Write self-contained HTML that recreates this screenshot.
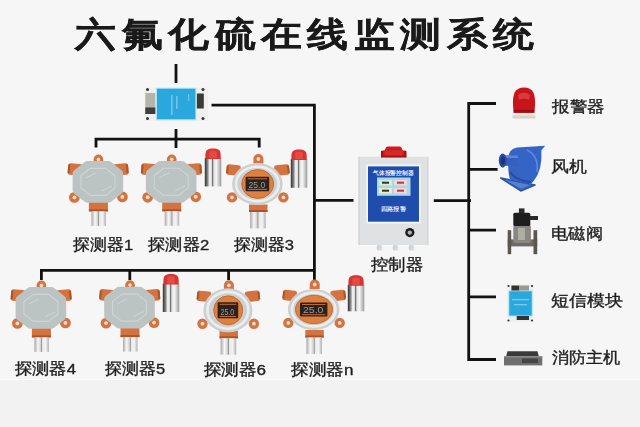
<!DOCTYPE html>
<html><head><meta charset="utf-8"><style>
html,body{margin:0;padding:0;width:640px;height:427px;overflow:hidden;background:#f6f6f6;font-family:"Liberation Sans",sans-serif}
#bot{position:absolute;left:0;top:379px;width:640px;height:48px;background:#f2f2f2;border-top:1px solid #fcfcfc}
</style></head><body><div id="bot"></div>
<svg width="640" height="427" style="position:absolute;left:0;top:0;filter:blur(0.35px);font-family:'Liberation Sans',sans-serif"><defs><linearGradient id="cyl" x1="0" x2="1" y1="0" y2="0"><stop offset="0" stop-color="#2e2e2e"/><stop offset="0.18" stop-color="#8a8a8a"/><stop offset="0.3" stop-color="#fafafa"/><stop offset="0.42" stop-color="#d8d8d8"/><stop offset="0.48" stop-color="#5a5a5a"/><stop offset="0.54" stop-color="#e0e0e0"/><stop offset="0.7" stop-color="#f6f6f6"/><stop offset="1" stop-color="#9a9a9a"/></linearGradient><linearGradient id="sen" x1="0" x2="1" y1="0" y2="0"><stop offset="0" stop-color="#a8a8a8"/><stop offset="0.25" stop-color="#f8f8f8"/><stop offset="0.45" stop-color="#cfcfcf"/><stop offset="0.5" stop-color="#8a8a8a"/><stop offset="0.56" stop-color="#e8e8e8"/><stop offset="0.78" stop-color="#f4f4f4"/><stop offset="1" stop-color="#b0b0b0"/></linearGradient></defs><g font-size="34" font-weight="bold" fill="#1a1a1a" stroke="#1a1a1a" stroke-width="0.3" text-anchor="middle"><text x="0" y="0" transform="translate(96.0,46) scale(1.2,1)">六</text><text x="0" y="0" transform="translate(142.4,46) scale(1.2,1)">氟</text><text x="0" y="0" transform="translate(188.8,46) scale(1.2,1)">化</text><text x="0" y="0" transform="translate(235.2,46) scale(1.2,1)">硫</text><text x="0" y="0" transform="translate(281.6,46) scale(1.2,1)">在</text><text x="0" y="0" transform="translate(328.0,46) scale(1.2,1)">线</text><text x="0" y="0" transform="translate(374.4,46) scale(1.2,1)">监</text><text x="0" y="0" transform="translate(420.8,46) scale(1.2,1)">测</text><text x="0" y="0" transform="translate(467.2,46) scale(1.2,1)">系</text><text x="0" y="0" transform="translate(513.6,46) scale(1.2,1)">统</text></g><path d="M176,64 V83 M176,129 V148" stroke="#121212" stroke-width="2.8" fill="none" stroke-linecap="butt"/><path d="M211.5,105.2 H314.4 V281" stroke="#121212" stroke-width="2.8" fill="none" stroke-linecap="butt"/><path d="M96,147.6 V139.2 H259.2 V147.6" stroke="#121212" stroke-width="2.8" fill="none" stroke-linecap="butt"/><path d="M41.4,280 V270.4 H314.4" stroke="#121212" stroke-width="2.8" fill="none" stroke-linecap="butt"/><path d="M129.8,280 V270.4 M228.6,280 V270.4" stroke="#121212" stroke-width="2.8" fill="none" stroke-linecap="butt"/><path d="M314.4,200.3 H353.5" stroke="#121212" stroke-width="2.8" fill="none" stroke-linecap="butt"/><path d="M433.8,200.6 H471 M496,103.5 H468.7 V359.5 H496 M468.7,169.4 H497.6 M468.7,230.2 H496 M468.7,296.8 H496" stroke="#121212" stroke-width="2.8" fill="none" stroke-linecap="butt"/><rect x="144.7" y="87.6" width="63.3" height="33.4" rx="1.5" fill="#efefec"/><rect x="145.3" y="93" width="10" height="21" fill="#b4b4ac"/><rect x="145.3" y="107.5" width="10" height="6.5" fill="#3d3d3a"/><rect x="196.8" y="93.5" width="7" height="15" fill="#3a3a36"/><circle cx="147.5" cy="89.5" r="1.5" fill="#333"/><circle cx="203" cy="89.5" r="1.5" fill="#333"/><circle cx="147.5" cy="118.5" r="1.5" fill="#333"/><circle cx="203" cy="118.5" r="1.5" fill="#333"/><rect x="156" y="87.8" width="40.3" height="32.4" fill="#a8e4f6"/><rect x="157" y="88.8" width="38.3" height="30.4" fill="#2aa7dd"/><g fill="#7fcdf0" opacity="0.8"><rect x="171" y="95" width="1.6" height="20"/><rect x="176" y="96" width="1.6" height="13"/><rect x="188" y="94" width="1.2" height="7"/></g><g transform="translate(204.8,148.4)"><rect x="0" y="9.5" width="16.5" height="28.5" fill="url(#cyl)"/><path d="M0.6,10.5 L0.6,6.5 C0.6,1.2 3.5,0 8.25,0 C13,0 15.9,1.2 15.9,6.5 L15.9,10.5 Z" fill="#d83430"/><path d="M4.5,3 Q8.25,1.2 12,3 L12,9.5 L4.5,9.5 Z" fill="#f06a60" opacity="0.45"/></g><g transform="translate(290.8,149.5)"><rect x="0" y="9.5" width="16.5" height="28.799999999999997" fill="url(#cyl)"/><path d="M0.6,10.5 L0.6,6.5 C0.6,1.2 3.5,0 8.25,0 C13,0 15.9,1.2 15.9,6.5 L15.9,10.5 Z" fill="#d83430"/><path d="M4.5,3 Q8.25,1.2 12,3 L12,9.5 L4.5,9.5 Z" fill="#f06a60" opacity="0.45"/></g><g transform="translate(97.9,181.9)"><path d="M-4.3,-18.18 L-4.3,-22.5 A4.8,4.8 0 0 1 5.3,-22.5 L5.3,-18.18 Z" fill="#d4733f"/><circle cx="0.5" cy="-22.5" r="1.82" fill="#f1dccd"/><g transform="rotate(5 -15 -11.75)"><rect x="-30" y="-17.5" width="15" height="11.5" rx="2.5" fill="#d4733f"/><rect x="-30" y="-16.0" width="2" height="8.5" fill="#a9542c"/></g><g transform="rotate(-5 15 -11.75)"><rect x="15" y="-17.5" width="15.5" height="11.5" rx="2.5" fill="#d4733f"/><rect x="28.5" y="-16.0" width="2" height="8.5" fill="#a9542c"/></g><circle cx="-23.5" cy="15.5" r="5.4" fill="#d4733f"/><circle cx="-23.5" cy="15.5" r="1.94" fill="#f1dccd"/><circle cx="24.5" cy="15" r="5.4" fill="#d4733f"/><circle cx="24.5" cy="15" r="1.94" fill="#f1dccd"/><rect x="-9" y="20" width="19" height="9.5" fill="#d4733f"/><rect x="-9" y="27.5" width="19" height="2" fill="#a9542c"/><rect x="-6.5" y="29.5" width="14.5" height="14.5" fill="url(#sen)"/><polygon points="-10.4,-16.4 10.4,-16.4 20.8,-8.2 20.8,8.2 10.4,16.4 -10.4,16.4 -20.8,8.2 -20.8,-8.2" fill="#bcc3c3" stroke="#bcc3c3" stroke-width="9" stroke-linejoin="round"/><polygon points="-7.7,-13.5 7.7,-13.5 17.0,-6.1 17.0,6.1 7.7,13.5 -7.7,13.5 -17.0,6.1 -17.0,-6.1" fill="none" stroke="#ced5d5" stroke-width="1.1" stroke-linejoin="round"/><path d="M-12,-4 L-2,-9 M4,9 L14,4" stroke="#d2d8d8" stroke-width="0.9"/></g><g transform="translate(171.2,181.8)"><path d="M-4.3,-18.18 L-4.3,-22.5 A4.8,4.8 0 0 1 5.3,-22.5 L5.3,-18.18 Z" fill="#d4733f"/><circle cx="0.5" cy="-22.5" r="1.82" fill="#f1dccd"/><g transform="rotate(5 -15 -11.75)"><rect x="-30" y="-17.5" width="15" height="11.5" rx="2.5" fill="#d4733f"/><rect x="-30" y="-16.0" width="2" height="8.5" fill="#a9542c"/></g><g transform="rotate(-5 15 -11.75)"><rect x="15" y="-17.5" width="15.5" height="11.5" rx="2.5" fill="#d4733f"/><rect x="28.5" y="-16.0" width="2" height="8.5" fill="#a9542c"/></g><circle cx="-23.5" cy="15.5" r="5.4" fill="#d4733f"/><circle cx="-23.5" cy="15.5" r="1.94" fill="#f1dccd"/><circle cx="24.5" cy="15" r="5.4" fill="#d4733f"/><circle cx="24.5" cy="15" r="1.94" fill="#f1dccd"/><rect x="-9" y="20" width="19" height="9.5" fill="#d4733f"/><rect x="-9" y="27.5" width="19" height="2" fill="#a9542c"/><rect x="-6.5" y="29.5" width="14.5" height="14.5" fill="url(#sen)"/><polygon points="-10.4,-16.4 10.4,-16.4 20.8,-8.2 20.8,8.2 10.4,16.4 -10.4,16.4 -20.8,8.2 -20.8,-8.2" fill="#bcc3c3" stroke="#bcc3c3" stroke-width="9" stroke-linejoin="round"/><polygon points="-7.7,-13.5 7.7,-13.5 17.0,-6.1 17.0,6.1 7.7,13.5 -7.7,13.5 -17.0,6.1 -17.0,-6.1" fill="none" stroke="#ced5d5" stroke-width="1.1" stroke-linejoin="round"/><path d="M-12,-4 L-2,-9 M4,9 L14,4" stroke="#d2d8d8" stroke-width="0.9"/></g><g transform="translate(257.4,184)"><path d="M-4,-20.5 L-4,-25 A5,5 0 0 1 6,-25 L6,-20.5 Z" fill="#d4733f"/><circle cx="1" cy="-25" r="1.90" fill="#f1dccd"/><g transform="rotate(6 -17 -13.25)"><rect x="-31" y="-18.5" width="14" height="10.5" rx="2.5" fill="#d4733f"/><rect x="-31" y="-17.0" width="2" height="7.5" fill="#a9542c"/></g><g transform="rotate(-6 17 -13.25)"><rect x="17" y="-18.5" width="15" height="10.5" rx="2.5" fill="#d4733f"/><rect x="30" y="-17.0" width="2" height="7.5" fill="#a9542c"/></g><circle cx="-25.4" cy="13.4" r="5.2" fill="#d4733f"/><circle cx="-25.4" cy="13.4" r="1.87" fill="#f1dccd"/><circle cx="26" cy="13.4" r="5.2" fill="#d4733f"/><circle cx="26" cy="13.4" r="1.87" fill="#f1dccd"/><rect x="-8.4" y="20.5" width="18.5" height="7.5" fill="#d4733f"/><rect x="-8.4" y="26" width="18.5" height="2" fill="#a9542c"/><rect x="-7.3" y="28" width="15.600000000000001" height="16.4" fill="url(#sen)"/><ellipse cx="0" cy="0" rx="25.3" ry="20.9" fill="#cdd0d0"/><ellipse cx="0" cy="0" rx="21.3" ry="17.299999999999997" fill="none" stroke="#eceeee" stroke-width="2.6"/><ellipse cx="0.3" cy="0" rx="16" ry="14.4" fill="#e0803e"/><ellipse cx="0.3" cy="0" rx="16" ry="14.4" fill="none" stroke="#b8602e" stroke-width="0.8"/><rect x="-11.8" y="-7.2" width="23.6" height="14.4" rx="1.2" fill="#2a221f"/><text x="-8.8" y="4.0" font-size="8.9" fill="#dcdcdc" opacity="0.65" textLength="16.6" lengthAdjust="spacingAndGlyphs">25.0</text><rect x="-9.8" y="-5.7" width="19.6" height="1" fill="#e08040" opacity="0.8"/><rect x="-9.8" y="4.9" width="19.6" height="1" fill="#e08040" opacity="0.8"/></g><g transform="translate(162.8,274)"><rect x="0" y="9.5" width="16.5" height="28.5" fill="url(#cyl)"/><path d="M0.6,10.5 L0.6,6.5 C0.6,1.2 3.5,0 8.25,0 C13,0 15.9,1.2 15.9,6.5 L15.9,10.5 Z" fill="#d83430"/><path d="M4.5,3 Q8.25,1.2 12,3 L12,9.5 L4.5,9.5 Z" fill="#f06a60" opacity="0.45"/></g><g transform="translate(347.8,275.3)"><rect x="0" y="9.5" width="16.5" height="26.5" fill="url(#cyl)"/><path d="M0.6,10.5 L0.6,6.5 C0.6,1.2 3.5,0 8.25,0 C13,0 15.9,1.2 15.9,6.5 L15.9,10.5 Z" fill="#d83430"/><path d="M4.5,3 Q8.25,1.2 12,3 L12,9.5 L4.5,9.5 Z" fill="#f06a60" opacity="0.45"/></g><g transform="translate(40.9,307.9)"><path d="M-4.3,-18.18 L-4.3,-22.5 A4.8,4.8 0 0 1 5.3,-22.5 L5.3,-18.18 Z" fill="#d4733f"/><circle cx="0.5" cy="-22.5" r="1.82" fill="#f1dccd"/><g transform="rotate(5 -15 -11.75)"><rect x="-30" y="-17.5" width="15" height="11.5" rx="2.5" fill="#d4733f"/><rect x="-30" y="-16.0" width="2" height="8.5" fill="#a9542c"/></g><g transform="rotate(-5 15 -11.75)"><rect x="15" y="-17.5" width="15.5" height="11.5" rx="2.5" fill="#d4733f"/><rect x="28.5" y="-16.0" width="2" height="8.5" fill="#a9542c"/></g><circle cx="-23.5" cy="15.5" r="5.4" fill="#d4733f"/><circle cx="-23.5" cy="15.5" r="1.94" fill="#f1dccd"/><circle cx="24.5" cy="15" r="5.4" fill="#d4733f"/><circle cx="24.5" cy="15" r="1.94" fill="#f1dccd"/><rect x="-9" y="20" width="19" height="9.5" fill="#d4733f"/><rect x="-9" y="27.5" width="19" height="2" fill="#a9542c"/><rect x="-6.5" y="29.5" width="14.5" height="14.5" fill="url(#sen)"/><polygon points="-10.4,-16.4 10.4,-16.4 20.8,-8.2 20.8,8.2 10.4,16.4 -10.4,16.4 -20.8,8.2 -20.8,-8.2" fill="#bcc3c3" stroke="#bcc3c3" stroke-width="9" stroke-linejoin="round"/><polygon points="-7.7,-13.5 7.7,-13.5 17.0,-6.1 17.0,6.1 7.7,13.5 -7.7,13.5 -17.0,6.1 -17.0,-6.1" fill="none" stroke="#ced5d5" stroke-width="1.1" stroke-linejoin="round"/><path d="M-12,-4 L-2,-9 M4,9 L14,4" stroke="#d2d8d8" stroke-width="0.9"/></g><g transform="translate(129.5,307.6)"><path d="M-4.3,-18.18 L-4.3,-22.5 A4.8,4.8 0 0 1 5.3,-22.5 L5.3,-18.18 Z" fill="#d4733f"/><circle cx="0.5" cy="-22.5" r="1.82" fill="#f1dccd"/><g transform="rotate(5 -15 -11.75)"><rect x="-30" y="-17.5" width="15" height="11.5" rx="2.5" fill="#d4733f"/><rect x="-30" y="-16.0" width="2" height="8.5" fill="#a9542c"/></g><g transform="rotate(-5 15 -11.75)"><rect x="15" y="-17.5" width="15.5" height="11.5" rx="2.5" fill="#d4733f"/><rect x="28.5" y="-16.0" width="2" height="8.5" fill="#a9542c"/></g><circle cx="-23.5" cy="15.5" r="5.4" fill="#d4733f"/><circle cx="-23.5" cy="15.5" r="1.94" fill="#f1dccd"/><circle cx="24.5" cy="15" r="5.4" fill="#d4733f"/><circle cx="24.5" cy="15" r="1.94" fill="#f1dccd"/><rect x="-9" y="20" width="19" height="9.5" fill="#d4733f"/><rect x="-9" y="27.5" width="19" height="2" fill="#a9542c"/><rect x="-6.5" y="29.5" width="14.5" height="14.5" fill="url(#sen)"/><polygon points="-10.4,-16.4 10.4,-16.4 20.8,-8.2 20.8,8.2 10.4,16.4 -10.4,16.4 -20.8,8.2 -20.8,-8.2" fill="#bcc3c3" stroke="#bcc3c3" stroke-width="9" stroke-linejoin="round"/><polygon points="-7.7,-13.5 7.7,-13.5 17.0,-6.1 17.0,6.1 7.7,13.5 -7.7,13.5 -17.0,6.1 -17.0,-6.1" fill="none" stroke="#ced5d5" stroke-width="1.1" stroke-linejoin="round"/><path d="M-12,-4 L-2,-9 M4,9 L14,4" stroke="#d2d8d8" stroke-width="0.9"/></g><g transform="translate(227.9,310.3)"><path d="M-4,-20.5 L-4,-25 A5,5 0 0 1 6,-25 L6,-20.5 Z" fill="#d4733f"/><circle cx="1" cy="-25" r="1.90" fill="#f1dccd"/><g transform="rotate(6 -17 -13.25)"><rect x="-31" y="-18.5" width="14" height="10.5" rx="2.5" fill="#d4733f"/><rect x="-31" y="-17.0" width="2" height="7.5" fill="#a9542c"/></g><g transform="rotate(-6 17 -13.25)"><rect x="17" y="-18.5" width="15" height="10.5" rx="2.5" fill="#d4733f"/><rect x="30" y="-17.0" width="2" height="7.5" fill="#a9542c"/></g><circle cx="-25.4" cy="13.4" r="5.2" fill="#d4733f"/><circle cx="-25.4" cy="13.4" r="1.87" fill="#f1dccd"/><circle cx="26" cy="13.4" r="5.2" fill="#d4733f"/><circle cx="26" cy="13.4" r="1.87" fill="#f1dccd"/><rect x="-8.4" y="20.5" width="18.5" height="7.5" fill="#d4733f"/><rect x="-8.4" y="26" width="18.5" height="2" fill="#a9542c"/><rect x="-7.3" y="28" width="15.600000000000001" height="16.4" fill="url(#sen)"/><ellipse cx="0" cy="0" rx="24.5" ry="22" fill="#cdd0d0"/><ellipse cx="0" cy="0" rx="20.5" ry="18.4" fill="none" stroke="#eceeee" stroke-width="2.6"/><ellipse cx="0.3" cy="0" rx="14.5" ry="14.5" fill="#e0803e"/><ellipse cx="0.3" cy="0" rx="14.5" ry="14.5" fill="none" stroke="#b8602e" stroke-width="0.8"/><rect x="-10.3" y="-8" width="20.6" height="16" rx="1.2" fill="#2a221f"/><text x="-7.300000000000001" y="4.8" font-size="9.9" fill="#dcdcdc" opacity="0.65" textLength="13.6" lengthAdjust="spacingAndGlyphs">25.0</text><rect x="-8.3" y="-6.5" width="16.6" height="1" fill="#e08040" opacity="0.8"/><rect x="-8.3" y="5.7" width="16.6" height="1" fill="#e08040" opacity="0.8"/></g><g transform="translate(313.7,309.5)"><path d="M-4,-20.5 L-4,-25 A5,5 0 0 1 6,-25 L6,-20.5 Z" fill="#d4733f"/><circle cx="1" cy="-25" r="1.90" fill="#f1dccd"/><g transform="rotate(6 -17 -13.25)"><rect x="-31" y="-18.5" width="14" height="10.5" rx="2.5" fill="#d4733f"/><rect x="-31" y="-17.0" width="2" height="7.5" fill="#a9542c"/></g><g transform="rotate(-6 17 -13.25)"><rect x="17" y="-18.5" width="15" height="10.5" rx="2.5" fill="#d4733f"/><rect x="30" y="-17.0" width="2" height="7.5" fill="#a9542c"/></g><circle cx="-25.4" cy="13.4" r="5.2" fill="#d4733f"/><circle cx="-25.4" cy="13.4" r="1.87" fill="#f1dccd"/><circle cx="26" cy="13.4" r="5.2" fill="#d4733f"/><circle cx="26" cy="13.4" r="1.87" fill="#f1dccd"/><rect x="-8.4" y="20.5" width="18.5" height="7.5" fill="#d4733f"/><rect x="-8.4" y="26" width="18.5" height="2" fill="#a9542c"/><rect x="-7.3" y="28" width="15.600000000000001" height="16.4" fill="url(#sen)"/><ellipse cx="0" cy="0" rx="25.8" ry="20.5" fill="#cdd0d0"/><ellipse cx="0" cy="0" rx="21.8" ry="16.9" fill="none" stroke="#eceeee" stroke-width="2.6"/><ellipse cx="0.3" cy="0" rx="18.5" ry="14.2" fill="#e0803e"/><ellipse cx="0.3" cy="0" rx="18.5" ry="14.2" fill="none" stroke="#b8602e" stroke-width="0.8"/><rect x="-13.7" y="-7" width="27.4" height="14" rx="1.2" fill="#2a221f"/><text x="-10.7" y="3.8" font-size="8.7" fill="#dcdcdc" opacity="0.65" textLength="20.4" lengthAdjust="spacingAndGlyphs">25.0</text><rect x="-11.7" y="-5.5" width="23.4" height="1" fill="#e08040" opacity="0.8"/><rect x="-11.7" y="4.7" width="23.4" height="1" fill="#e08040" opacity="0.8"/></g><rect x="358.5" y="156.8" width="69.9" height="88.2" fill="#e0e1e2"/><rect x="358.5" y="156.8" width="1.2" height="88.2" fill="#cfd1d2"/><rect x="427.2" y="156.8" width="1.2" height="88.2" fill="#d2d4d5"/><rect x="366.3" y="164.6" width="54.4" height="58.9" fill="#f4f7fa"/><rect x="368" y="166.4" width="51" height="55.3" fill="#1f4dae"/><text x="373" y="174.6" font-size="5.6" font-weight="bold" fill="#e8eeff" textLength="40.7" lengthAdjust="spacingAndGlyphs">气体报警控制器</text><rect x="377" y="177.5" width="33.5" height="18.3" fill="#a6daea"/><rect x="379" y="180" width="13" height="5.5" fill="#d4eed8"/><rect x="394" y="180" width="13" height="5.5" fill="#f0d6d6"/><rect x="379" y="188" width="13" height="5.5" fill="#efe9c6"/><rect x="394" y="188" width="13" height="5.5" fill="#f0d6d6"/><g fill="#333"><rect x="382" y="181.7" width="7" height="2"/><rect x="397" y="181.7" width="7" height="2" fill="#b04040"/><rect x="382" y="189.7" width="7" height="2"/><rect x="397" y="189.7" width="7" height="2" fill="#b04040"/></g><text x="381" y="211.3" font-size="5.6" font-weight="bold" fill="#dfe8ff" textLength="24.7" lengthAdjust="spacingAndGlyphs">四路报警</text><circle cx="409.8" cy="232.6" r="4.6" fill="#1a1a1a"/><circle cx="409.8" cy="232.6" r="2.2" fill="#b0b0b0"/><g fill="#d4d5d6"><rect x="376.6" y="245" width="5.3" height="5.5" rx="1.5"/><rect x="392.6" y="245" width="5.3" height="5.5" rx="1.5"/><rect x="408.6" y="245" width="5.3" height="5.5" rx="1.5"/></g><path d="M381,157.3 L381,152 Q381,150.6 383,150.6 L384.5,150.6 L386,147.6 Q386.6,146.6 388,146.6 L399.5,146.6 Q400.8,146.6 401.4,147.6 L402.8,150.6 L404.4,150.6 Q406.3,150.6 406.3,152 L406.3,157.3 Z" fill="#cc1c1c"/><rect x="384.5" y="150.6" width="18.3" height="6.7" fill="#d82a26"/><rect x="381" y="151" width="2" height="6.3" fill="#9a1414"/><rect x="404.3" y="151" width="2" height="6.3" fill="#9a1414"/><rect x="381" y="155.6" width="25.3" height="1.7" fill="#a01616"/><path d="M512.6,118.5 L512.6,109 Q512.6,107 514.6,107 L533.3,107 Q535.3,107 535.3,109 L535.3,118.5 Z" fill="#ece8e2"/><rect x="512.6" y="115.5" width="22.7" height="3" fill="#d8d4cc"/><path d="M514,112.7 C512.6,106 512.4,98 514.6,92.5 Q517.5,87.4 524,87.4 Q530.5,87.4 533.4,92.5 C535.6,98 535.4,106 534,112.7 Z" fill="#c8141a"/><path d="M518,95 Q524,90 530,95 L529,100 Q524,97 519,100 Z" fill="#e85a5a" opacity="0.55"/><rect x="513.6" y="109.8" width="20.8" height="2.9" fill="#9a0e12"/><path d="M500.8,178 L535,185 L520.8,190.9 Z" fill="#3c66c0" stroke="#2c54a8" stroke-width="1.6" stroke-linejoin="round"/><path d="M505,180 L530,185 L521,188.5 Z" fill="#6a92dc" opacity="0.6"/><path d="M508.5,158 Q508.5,149 517,147.5 L545.2,145.8 L541.4,150.3 Q542.5,170 534,180.5 L531,184 L510,179.5 Q507.5,172 508.5,158 Z" fill="#3464c6"/><path d="M510,172 Q516,181 531,182" fill="none" stroke="#2a4c9c" stroke-width="2.2"/><path d="M527,150 Q539,156 537,172" fill="none" stroke="#5c8ae2" stroke-width="1.6"/><rect x="503" y="155.5" width="15" height="10.3" fill="#3660c0"/><rect x="503" y="155.5" width="15" height="2.5" fill="#5a86d8"/><ellipse cx="502.7" cy="160.6" rx="3.9" ry="7.1" fill="#2a4c9e"/><ellipse cx="502.9" cy="160.6" rx="2" ry="4.2" fill="#1a3478"/><rect x="507.7" y="239.4" width="29.5" height="7" fill="#6e6a66"/><rect x="507.7" y="230.2" width="3.5" height="24" fill="#5a5652"/><rect x="533.5" y="230.2" width="3.7" height="24" fill="#5a5652"/><rect x="513.3" y="225" width="17.6" height="18" rx="2" fill="#8a8680"/><rect x="518" y="228" width="7" height="12" fill="#b0aca6"/><rect x="513.3" y="212.7" width="17" height="13.3" rx="1.5" fill="#1e1e1e"/><rect x="530" y="216" width="8" height="4" fill="#2a2a2a"/><rect x="518.9" y="208.4" width="5.6" height="5" fill="#2a2a2a"/><rect x="507.3" y="284.4" width="26.3" height="37.4" fill="#efefec"/><rect x="508.3" y="290.3" width="24.4" height="26.2" fill="#a8e4f6"/><rect x="509.3" y="291.3" width="22.4" height="24.2" fill="#2aa7dd"/><rect x="511.4" y="285.5" width="8" height="5" fill="#333"/><rect x="519.4" y="285.5" width="9.6" height="5" fill="#9a9a92"/><rect x="516.7" y="316" width="12.3" height="4" fill="#333"/><g fill="#8fd4f2" opacity="0.8"><rect x="512" y="299" width="17" height="1.3"/><rect x="514" y="304" width="13" height="1.3"/></g><circle cx="508.5" cy="286" r="1.1" fill="#333"/><circle cx="532" cy="286" r="1.1" fill="#333"/><circle cx="508.5" cy="320.5" r="1.1" fill="#333"/><circle cx="532" cy="320.5" r="1.1" fill="#333"/><path d="M506.2,356.3 L507.5,351.2 L537.5,351.2 L538.8,356.3 Z" fill="#3a3a3a"/><rect x="504" y="356.3" width="38.3" height="9.1" fill="#6e6e6e"/><rect x="522" y="358.5" width="16" height="4.5" fill="#444"/><rect x="504" y="356.3" width="38.3" height="1.2" fill="#8a8a8a"/><g fill="#1e1e1e" stroke="#1e1e1e" stroke-width="0.35"><text x="73.2" y="250" font-size="15.5" textLength="60" lengthAdjust="spacingAndGlyphs">探测器1</text><text x="148.2" y="250" font-size="15.5" textLength="61" lengthAdjust="spacingAndGlyphs">探测器2</text><text x="233.7" y="250" font-size="15.5" textLength="60.2" lengthAdjust="spacingAndGlyphs">探测器3</text><text x="14.75" y="374" font-size="15.5" textLength="61.2" lengthAdjust="spacingAndGlyphs">探测器4</text><text x="105" y="374" font-size="15.5" textLength="60.2" lengthAdjust="spacingAndGlyphs">探测器5</text><text x="203.75" y="375" font-size="15.5" textLength="62.3" lengthAdjust="spacingAndGlyphs">探测器6</text><text x="291.25" y="375" font-size="15.5" textLength="62.3" lengthAdjust="spacingAndGlyphs">探测器n</text><text x="370.9" y="270" font-size="15.5" textLength="52.2" lengthAdjust="spacingAndGlyphs">控制器</text><text x="552.4" y="111.5" font-size="15.5" textLength="52.5" lengthAdjust="spacingAndGlyphs">报警器</text><text x="551.4" y="172" font-size="15.5" textLength="35.8" lengthAdjust="spacingAndGlyphs">风机</text><text x="551" y="239.2" font-size="15.5" textLength="51.8" lengthAdjust="spacingAndGlyphs">电磁阀</text><text x="550.9" y="305.7" font-size="15.5" textLength="71.8" lengthAdjust="spacingAndGlyphs">短信模块</text><text x="551.9" y="362.5" font-size="15.5" textLength="68.7" lengthAdjust="spacingAndGlyphs">消防主机</text></g></svg>
</body></html>
